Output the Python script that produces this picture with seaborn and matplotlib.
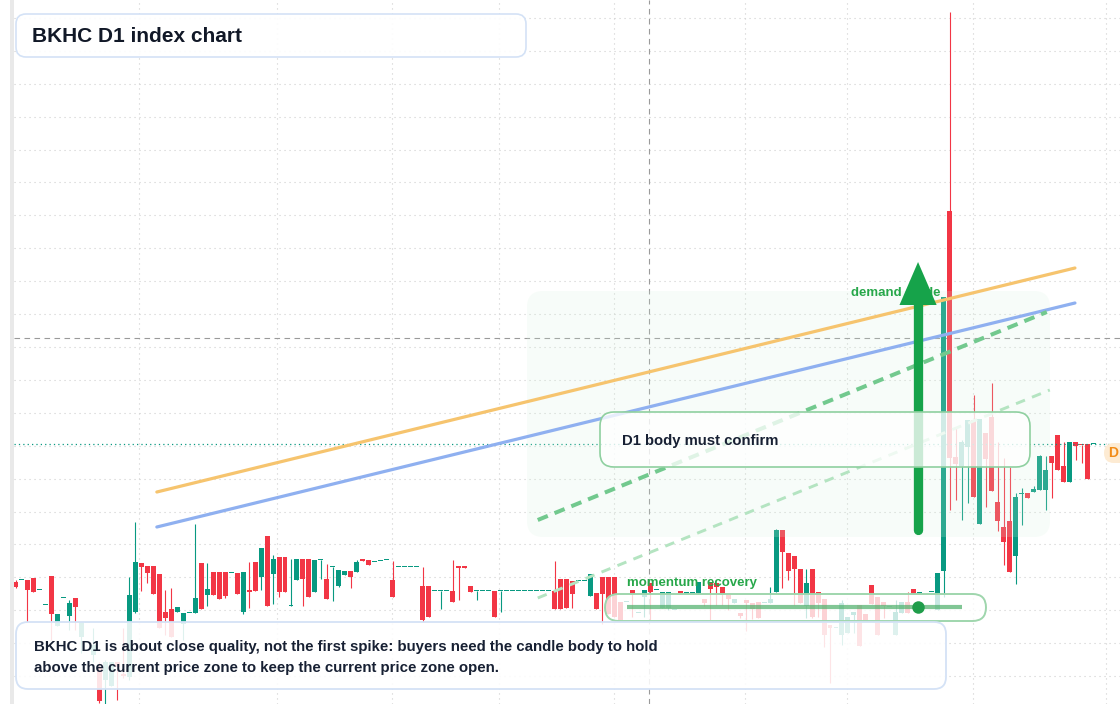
import numpy as np
import pandas as pd

import matplotlib
matplotlib.use("Agg")

import matplotlib.pyplot as plt
import seaborn as sns
from matplotlib.patches import FancyBboxPatch, Rectangle
from matplotlib.transforms import Affine2D

# ============================================================
# Data (daily candles)
# ============================================================

opens = [
    1.22, 1.24, 1.24, 1.26, 1.14, 0.99, 1.28, 0.78, 1.06, 0.88,
    1.06, 0.67, 0.81, 0.49, 0.36, 0.24, 0.18, 0.42, 0.29, 0.27,
    0.92, 1.41, 1.38, 1.38, 1.30, 0.92, 0.95, 0.92, 0.80, 0.91,
    0.91, 1.41, 1.09, 1.32, 1.32, 1.32, 1.31, 1.31, 0.92, 1.14,
    1.42, 1.27, 1.68, 1.30, 1.47, 1.47, 0.98, 1.24, 1.45, 1.45,
    1.12, 1.44, 1.25, 1.37, 1.18, 1.29, 1.33, 1.32, 1.44, 1.44,
    1.42, 1.43, 1.44, 1.24, 1.37, 1.37, 1.37, 1.37, 1.18, 1.18,
    1.13, 1.13, 1.13, 1.13, 1.37, 1.37, 1.18, 1.13, 1.13, 1.13,
    1.13, 1.13, 1.13, 1.13, 1.13, 1.13, 1.13, 1.13, 1.13, 1.13,
    1.13, 1.25, 1.25, 1.23, 1.23, 1.23, 1.08, 1.11, 1.27, 1.27,
    1.27, 1.02, 1.02, 1.14, 0.91, 1.07, 1.21, 1.14, 0.96, 0.96,
    0.94, 1.12, 1.11, 1.11, 1.11, 1.05, 1.21, 1.21, 1.17, 1.09,
    1.01, 0.91, 1.04, 1.01, 1.02, 1.01, 1.01, 1.12, 1.74, 1.51,
    1.48, 1.35, 0.98, 1.35, 1.12, 1.05, 0.79, 0.76, 0.69, 0.71,
    0.89, 0.99, 0.90, 1.19, 1.07, 1.02, 0.97, 0.69, 0.91, 1.02,
    1.15, 1.11, 1.09, 1.12, 0.94, 1.33, 4.93, 2.47, 2.38, 2.57,
    2.84, 1.80, 2.71, 2.87, 2.02, 1.77, 1.83, 1.48, 2.10, 2.11,
    2.12, 2.14, 2.14, 2.48, 2.69, 2.38, 2.22, 2.62, 2.59, 2.60,
    2.60,
]
highs = [
    1.24, 1.24, 1.24, 1.26, 1.14, 0.99, 1.28, 0.90, 1.06, 1.04,
    1.06, 0.82, 0.81, 0.76, 0.42, 0.44, 0.42, 0.42, 0.76, 1.27,
    1.82, 1.41, 1.38, 1.38, 1.30, 1.14, 1.16, 0.97, 0.91, 0.91,
    1.80, 1.41, 1.41, 1.32, 1.32, 1.32, 1.31, 1.31, 1.32, 1.42,
    1.42, 1.56, 1.68, 1.49, 1.47, 1.47, 1.45, 1.45, 1.45, 1.45,
    1.44, 1.44, 1.40, 1.37, 1.34, 1.33, 1.33, 1.44, 1.44, 1.44,
    1.42, 1.43, 1.44, 1.43, 1.37, 1.37, 1.37, 1.37, 1.37, 1.18,
    1.13, 1.13, 1.13, 1.44, 1.37, 1.37, 1.18, 1.13, 1.13, 1.13,
    1.13, 1.13, 1.13, 1.13, 1.13, 1.13, 1.13, 1.13, 1.13, 1.13,
    1.43, 1.25, 1.25, 1.23, 1.23, 1.23, 1.30, 1.11, 1.27, 1.27,
    1.27, 1.02, 1.02, 1.14, 0.91, 1.14, 1.21, 1.14, 1.12, 1.12,
    0.94, 1.12, 1.11, 1.11, 1.22, 1.05, 1.21, 1.21, 1.17, 1.09,
    1.05, 0.91, 1.04, 1.01, 1.02, 1.01, 1.17, 1.75, 1.74, 1.51,
    1.48, 1.35, 1.35, 1.35, 1.12, 1.05, 0.79, 0.76, 1.04, 0.87,
    0.92, 0.99, 0.90, 1.19, 1.07, 1.02, 0.97, 1.04, 1.02, 1.12,
    1.15, 1.11, 1.09, 1.12, 1.31, 4.07, 6.92, 2.76, 2.64, 2.84,
    3.09, 2.85, 2.71, 3.21, 2.62, 2.46, 2.37, 2.11, 2.16, 2.11,
    2.18, 2.49, 2.48, 2.48, 2.69, 2.62, 2.62, 2.62, 2.59, 2.60,
    2.60,
]
lows = [
    1.16, 1.24, 0.82, 1.12, 1.14, 0.99, 0.64, 0.78, 1.06, 0.74,
    0.74, 0.51, 0.81, 0.42, 0.01, -0.01, 0.18, 0.04, 0.26, 0.24,
    0.91, 1.13, 1.21, 1.10, 0.76, 0.69, 0.67, 0.92, 0.64, 0.91,
    0.91, 0.95, 0.98, 1.09, 1.05, 1.06, 1.31, 1.10, 0.90, 0.96,
    1.13, 1.14, 0.98, 1.00, 1.07, 1.12, 0.98, 1.24, 0.98, 1.07,
    1.12, 1.25, 1.05, 1.03, 1.17, 1.29, 1.16, 1.32, 1.435, 1.39,
    1.42, 1.43, 1.44, 1.07, 1.37, 1.37, 1.37, 1.37, 0.82, 0.87,
    1.13, 0.95, 1.13, 1.02, 1.04, 1.365, 1.12, 1.04, 1.13, 1.13,
    0.87, 0.92, 1.13, 1.13, 1.13, 1.13, 1.13, 1.13, 1.13, 1.13,
    0.95, 0.95, 0.96, 0.96, 1.23, 1.23, 1.08, 0.95, 0.80, 0.90,
    0.87, 0.84, 1.02, 0.87, 0.91, 0.87, 0.84, 1.14, 0.96, 0.94,
    0.94, 1.115, 1.11, 1.11, 1.11, 0.98, 0.84, 0.99, 0.99, 0.94,
    1.01, 0.86, 0.73, 0.85, 0.86, 1.01, 1.01, 1.12, 1.16, 1.24,
    0.99, 1.01, 0.86, 0.86, 0.87, 0.57, 0.21, 0.76, 0.59, 0.71,
    0.71, 0.58, 0.83, 1.00, 0.69, 0.86, 0.97, 0.69, 0.91, 0.91,
    1.10, 1.11, 1.09, 1.12, 0.94, 1.07, 1.94, 2.04, 1.84, 2.01,
    2.07, 1.80, 1.97, 2.13, 1.73, 1.39, 1.32, 1.20, 1.79, 2.06,
    2.12, 2.14, 1.94, 2.06, 2.34, 2.22, 2.22, 2.44, 2.41, 2.25,
    2.60,
]
closes = [
    1.17, 1.24, 1.14, 1.12, 1.14, 0.99, 0.90, 0.90, 1.06, 1.01,
    0.97, 0.82, 0.81, 0.59, 0.03, 0.42, 0.42, 0.37, 0.285, 1.09,
    1.42, 1.37, 1.31, 1.10, 0.76, 0.86, 0.67, 0.97, 0.91, 0.91,
    1.06, 0.95, 1.15, 1.09, 1.05, 1.08, 1.31, 1.10, 1.32, 1.12,
    1.13, 1.56, 0.98, 1.45, 1.12, 1.12, 0.99, 1.45, 1.25, 1.07,
    1.44, 1.44, 1.05, 1.37, 1.34, 1.33, 1.27, 1.42, 1.435, 1.39,
    1.42, 1.43, 1.44, 1.07, 1.37, 1.37, 1.37, 1.37, 0.84, 0.87,
    1.13, 1.13, 1.13, 1.02, 1.365, 1.365, 1.12, 1.13, 1.13, 1.13,
    0.87, 1.13, 1.13, 1.13, 1.13, 1.13, 1.13, 1.13, 1.13, 1.13,
    0.95, 0.95, 0.96, 1.10, 1.23, 1.23, 1.30, 0.95, 1.10, 0.90,
    0.87, 0.84, 1.02, 1.09, 0.91, 1.14, 1.12, 1.14, 1.12, 1.12,
    0.94, 1.115, 1.11, 1.11, 1.22, 1.01, 1.15, 1.17, 1.09, 1.05,
    1.05, 0.88, 1.01, 0.95, 0.86, 1.01, 1.05, 1.74, 1.52, 1.33,
    1.35, 1.01, 1.21, 0.87, 1.01, 0.69, 0.76, 0.76, 1.01, 0.87,
    0.92, 0.58, 0.83, 1.00, 0.69, 0.98, 0.97, 0.92, 1.02, 0.91,
    1.10, 1.11, 1.09, 1.12, 1.31, 4.07, 2.46, 2.40, 2.62, 2.84,
    2.07, 2.85, 2.45, 2.13, 1.83, 1.62, 1.32, 2.07, 2.10, 2.06,
    2.15, 2.48, 2.34, 2.41, 2.34, 2.22, 2.62, 2.58, 2.585, 2.25,
    2.60,
]

# time grid (bar index) and price grid
grid_idx = [20.6, 43.7, 62.9, 80.7, 99.9, 121.8, 138.8, 159.9, 182.1]
price_grid_start = 0.28
price_grid_step = 0.329

last_price = 2.60
cross_idx = 105.8
cross_price = 3.66

# drawn overlays (bar index / price)
orange_x, orange_y = [23.6, 176.9], [2.12, 4.36]
blue_x, blue_y = [23.6, 176.9], [1.77, 4.01]
guide_x, guide_y = [87.2, 172.2], [1.84, 3.92]
guide2_x, guide2_y = [87.2, 172.7], [1.06, 3.14]

arrow_idx = 150.7
arrow_from, arrow_to = 1.74, 4.42

momentum_x = [102.1, 158.0]
momentum_price = 0.97
momentum_dot = 150.7

title_text = "BKHC D1 index chart"
note_lines = [
    "BKHC D1 is about close quality, not the first spike: buyers need the candle body to hold",
    "above the current price zone to keep the current price zone open.",
]

# ============================================================
# Styling
# ============================================================

W, H = 1120, 704
GREEN = "#089981"
RED = "#f23645"
TEXT = "#172033"
LABEL_GREEN = "#27a74a"

sns.set_theme(style="white")
plt.rcParams["font.family"] = ["Liberation Sans", "DejaVu Sans"]

fig = plt.figure(figsize=(W / 100, H / 100), dpi=100)
fig.patch.set_facecolor("white")
ax = fig.add_axes([14 / W, 0, (W - 14) / W, 1])
ax.set_facecolor("white")

# pixel-space transform for layout boxes (origin bottom-left)
px = Affine2D().scale(1 / W, 1 / H) + fig.transFigure


def rbox(x0, y0, x1, y1, r, fc, ec, lw, z):
    p = FancyBboxPatch((x0, H - y1), x1 - x0, y1 - y0,
                       boxstyle=f"round,pad=0,rounding_size={r}",
                       transform=px, facecolor=fc, edgecolor=ec,
                       linewidth=lw, zorder=z)
    ax.add_patch(p)
    return p


def ptext(x, y, s, **kw):
    return ax.text(x, H - y, s, transform=px, **kw)


# ============================================================
# Candles
# ============================================================

df = pd.DataFrame({"open": opens, "high": highs, "low": lows, "close": closes})
df["idx"] = np.arange(len(df))
up = df["close"] >= df["open"]
colors = np.where(up, GREEN, RED)

ax.vlines(df["idx"], df["low"], df["high"], colors=colors, lw=0.8, zorder=2)
body_bottom = np.minimum(df["open"], df["close"])
body_h = np.maximum((df["close"] - df["open"]).abs(), 0.014)
ax.bar(df["idx"], body_h, bottom=body_bottom, width=0.83, color=colors,
       linewidth=0, zorder=2.1)

# price line / crosshair
ax.axhline(last_price, color=GREEN, lw=0.9, ls=(0, (1, 2.5)), zorder=2.5)
ax.axhline(cross_price, color="#9a9a9a", lw=0.8, ls=(0, (5, 4)), zorder=1.5)
ax.axvline(cross_idx, color="#9a9a9a", lw=0.8, ls=(0, (5, 4)), zorder=1.5)

# demand zone (drawn over the candles, faint)
rbox(527, 291, 1050, 537, 16, (0.84, 0.95, 0.87, 0.18), "none", 0, 3)

# trend lines
sns.lineplot(x=orange_x, y=orange_y, ax=ax, color="#f6c46e", lw=2.3, zorder=4)
sns.lineplot(x=blue_x, y=blue_y, ax=ax, color="#8fb0f0", lw=2.3, zorder=4)
ax.plot(guide_x, guide_y, color="#72c98e", lw=2.9, ls=(0, (2.7, 1.8)), zorder=4)
ax.plot(guide2_x, guide2_y, color="#b4e4c1", lw=2.1, ls=(0, (3.3, 2.6)), zorder=4)

# demand guide label + arrow
ptext(851, 293, "demand guide", fontsize=9.5, fontweight="bold",
      color=LABEL_GREEN, va="center", ha="left", zorder=5)
head_len = 0.43
half_w = 3.1
ax.plot([arrow_idx, arrow_idx], [arrow_from, arrow_to - head_len],
        color="#16a34a", lw=6.7, solid_capstyle="round", zorder=6)
ax.fill([arrow_idx - half_w, arrow_idx + half_w, arrow_idx],
        [arrow_to - head_len, arrow_to - head_len, arrow_to],
        color="#16a34a", lw=0, zorder=6)

# D1 body box
rbox(600, 412, 1030, 467, 14, (1, 1, 1, 0.78), "#8fd0a0", 1.2, 7)
ptext(622, 441, "D1 body must confirm", fontsize=10.7, fontweight="bold",
      color=TEXT, va="center", ha="left", zorder=8)

# momentum recovery
ptext(627, 583, "momentum recovery", fontsize=9.5, fontweight="bold",
      color=LABEL_GREEN, va="center", ha="left", zorder=8)
rbox(605, 594, 986, 621, 13.5, (1, 1, 1, 0.78), "#9fd6ad", 1.4, 7)
ax.plot(momentum_x, [momentum_price, momentum_price], color="#4caf69",
        alpha=0.7, lw=3, solid_capstyle="butt", zorder=8)
ax.plot([momentum_dot], [momentum_price], "o", color="#1f9d4a",
        markersize=9, markeredgewidth=0, zorder=8.5)

# bottom note
rbox(16, 622, 946, 689, 12, (1, 1, 1, 0.87), "#d4e2f6", 1.3, 9)
ptext(34, 647, note_lines[0], fontsize=10.8, fontweight="bold",
      color=TEXT, va="center", ha="left", zorder=10)
ptext(34, 668, note_lines[1], fontsize=10.8, fontweight="bold",
      color=TEXT, va="center", ha="left", zorder=10)

# title
rbox(16, 14, 526, 57, 10, (1, 1, 1, 0.92), "#d4e2f6", 1.2, 9)
ptext(32, 36, title_text, fontsize=15, fontweight="bold",
      color="#111827", va="center", ha="left", zorder=10)

# last price tag (runs past the right edge)
rbox(1104, 443, 1150, 463, 10, "#fdebd3", "none", 0, 10)
ptext(1108, 453, "D", fontsize=10, fontweight="bold", color="#f28c18",
      va="center", ha="left", zorder=11)

# left scale strip
fig.add_artist(Rectangle((10, 0), 4, H, transform=px, facecolor="#e9e9e9",
                         edgecolor="none"))

# ============================================================
# Axes / grid
# ============================================================

ax.set_xlim((14 - 15.5) / 5.989, (W - 15.5) / 5.989)
ax.set_ylim(0, H / 100)
ax.set_xticks(grid_idx)
ax.set_yticks(price_grid_start + price_grid_step * np.arange(21))
ax.grid(True, color="#cfcfcf", lw=0.8, ls=(0, (1, 3.5)))
ax.set_axisbelow(True)
ax.tick_params(length=0, labelbottom=False, labelleft=False)
for s in ax.spines.values():
    s.set_visible(False)
ax.set_xlabel("")
ax.set_ylabel("")
legend = ax.get_legend()
if legend is not None:
    legend.remove()

fig.savefig("out.png", dpi=100, facecolor="white")
plt.close(fig)
